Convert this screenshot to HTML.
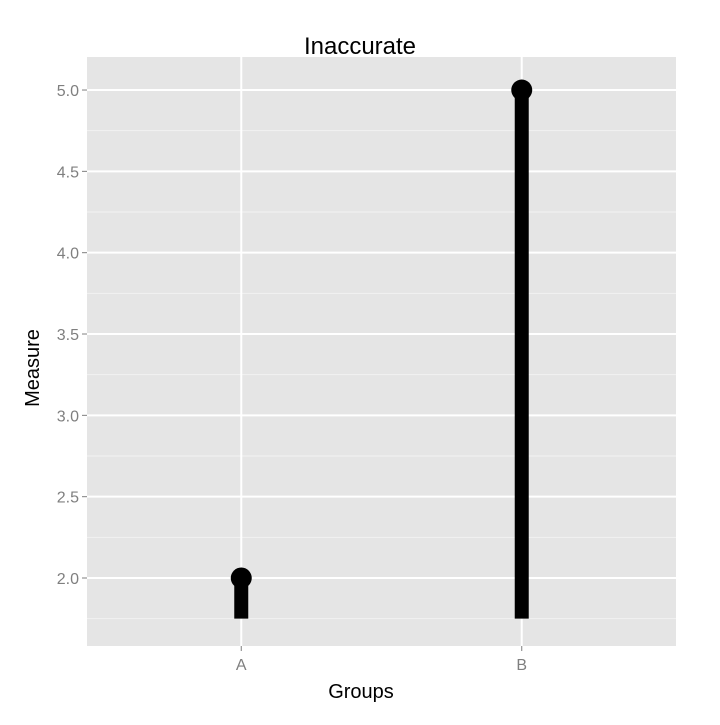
<!DOCTYPE html>
<html><head><meta charset="utf-8"><style>
body{margin:0;background:#fff;}
svg text{font-family:"Liberation Sans",Arial,sans-serif;}
</style></head><body>
<svg id="chart" width="720" height="720">
<rect x="0" y="0" width="720" height="720" fill="#fff"/>
<rect id="panel" x="87" y="57" width="589" height="589" fill="#e5e5e5"/>
<g id="grid"></g>
<g id="marks"></g>
<g id="axes"></g>
<text x="360" y="54" text-anchor="middle" font-size="24" fill="#000">Inaccurate</text>
<text x="361" y="698" text-anchor="middle" font-size="20" fill="#000">Groups</text>
<text transform="translate(39,368) rotate(-90)" text-anchor="middle" font-size="20" fill="#000">Measure</text>
</svg>
<script>
const categories = ["A","B"];
const values = [2.0, 5.0];
const baseline = 1.75;
const yTicks = [2.0,2.5,3.0,3.5,4.0,4.5,5.0];
const yTickLabels = ["2.0","2.5","3.0","3.5","4.0","4.5","5.0"];
const NS="http://www.w3.org/2000/svg";
const px0=87, px1=676, py0=57, py1=646;
const yMin=1.582, yMax=5.203;
function y(v){return py1-(v-yMin)/(yMax-yMin)*(py1-py0);}
function x(i){const n=categories.length;const lo=0.45, hi=n+0.55;return px0+((i+1)-lo)/(hi-lo)*(px1-px0);}
function mk(tag,attrs,parent){const e=document.createElementNS(NS,tag);for(const k in attrs)e.setAttribute(k,attrs[k]);parent.appendChild(e);return e;}
const grid=document.getElementById('grid'), marks=document.getElementById('marks'), axes=document.getElementById('axes');
for(let i=0;i<yTicks.length-1;i++){const v=(yTicks[i]+yTicks[i+1])/2;
 const l=mk('line',{x1:px0,x2:px1,y1:y(v),y2:y(v),stroke:'#f2f2f2','stroke-width':1},grid);
 
 }
{const v=yTicks[0]-0.25;const l=mk('line',{x1:px0,x2:px1,y1:y(v),y2:y(v),stroke:'#f2f2f2','stroke-width':1},grid);
 
 }
yTicks.forEach((v,i)=>{
 const l=mk('line',{x1:px0,x2:px1,y1:y(v),y2:y(v),stroke:'#fff','stroke-width':2},grid);
 
 
 const t=mk('line',{x1:px0-5,x2:px0,y1:y(v),y2:y(v),stroke:'#7f7f7f','stroke-width':1},axes);
 
 
 const tx=mk('text',{x:px0-8,y:y(v)+6,'text-anchor':'end','font-size':16,fill:'#7f7f7f'},axes);
 tx.textContent=yTickLabels[i];
 
 
});
categories.forEach((c,i)=>{
 const xx=x(i);
 const g=mk('line',{x1:xx,x2:xx,y1:py0,y2:py1,stroke:'#fff','stroke-width':2},grid);
 
 
 const t=mk('line',{x1:xx,x2:xx,y1:py1,y2:py1+5,stroke:'#7f7f7f','stroke-width':1},axes);
 
 
 const tx=mk('text',{x:xx,y:py1+24,'text-anchor':'middle','font-size':16,fill:'#7f7f7f'},axes);
 tx.textContent=c;
 
 
 const s=mk('line',{x1:xx,x2:xx,y1:y(baseline),y2:y(values[i]),stroke:'#000','stroke-width':14},marks);
 
 
 const p=mk('circle',{cx:xx,cy:y(values[i]),r:10.5,fill:'#000'},marks);
 
 
});
</script>
</body></html>
